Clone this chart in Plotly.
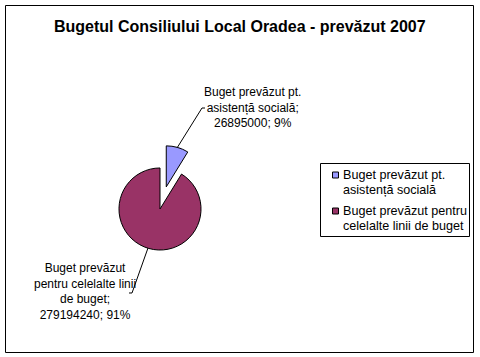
import plotly.graph_objects as go

categories = ["Buget prevăzut pt. asistență socială", "Buget prevăzut pentru celelalte linii de buget"]
legend_lines = [["Buget prevăzut pt.", "asistență socială"],
                ["Buget prevăzut pentru", "celelalte linii de buget"]]
values = [26895000, 279194240]
percents = ["9%", "91%"]
colors = ["#9999FF", "#993366"]

W, H = 480, 357

def px(x):
    return x / W

def py(y):
    return 1 - y / H

fig = go.Figure()
fig.add_trace(go.Pie(
    labels=categories,
    values=values,
    sort=False,
    direction="clockwise",
    rotation=0,
    pull=[0.56, 0],
    marker=dict(colors=colors, line=dict(color="black", width=1)),
    textinfo="none",
    hoverinfo="label+value+percent",
    showlegend=False,
    domain=dict(x=[px(160 - 64), px(160 + 64)], y=[py(209 + 64), py(209 - 64)]),
))

FAM = "Liberation Sans, Arial, sans-serif"
font = dict(family=FAM, size=12, color="black")

label1 = "Buget prevăzut pt.<br>asistență socială;<br>%d; %s" % (values[0], percents[0])
label2 = "Buget prevăzut<br>pentru celelalte linii<br>de buget;<br>%d; %s" % (values[1], percents[1])

annotations = [
    dict(text="<b>Bugetul Consiliului Local Oradea - prevăzut 2007</b>", x=px(240), y=py(27),
         xref="paper", yref="paper", showarrow=False, xanchor="center", yanchor="middle",
         font=dict(family=FAM, size=16, color="black")),
    dict(text=label1, x=px(252), y=py(107), xref="paper", yref="paper", showarrow=False,
         xanchor="center", yanchor="middle", align="center", font=font),
    dict(text=label2, x=px(85), y=py(291), xref="paper", yref="paper", showarrow=False,
         xanchor="center", yanchor="middle", align="center", font=font),
]

shapes = [
    dict(type="rect", xref="paper", yref="paper", x0=px(5.5), x1=px(473.5), y0=py(352.5), y1=py(5.5),
         line=dict(color="black", width=1)),
    dict(type="path", xref="paper", yref="paper",
         path="M %f,%f L %f,%f L %f,%f" % (px(177), py(148), px(202), py(108), px(205), py(108)),
         line=dict(color="black", width=1)),
    dict(type="path", xref="paper", yref="paper",
         path="M %f,%f L %f,%f L %f,%f" % (px(148), py(248), px(132), py(293), px(129), py(293)),
         line=dict(color="black", width=1)),
    # legend box
    dict(type="rect", xref="paper", yref="paper", x0=px(320.5), x1=px(469.5), y0=py(236.5), y1=py(163.5),
         line=dict(color="black", width=1), fillcolor="white"),
]

# manual legend entries
leg_top = [175, 211]
for i, c in enumerate(colors):
    yc = leg_top[i]
    shapes.append(dict(type="rect", xref="paper", yref="paper",
                       x0=px(332.5), x1=px(338.5), y0=py(yc + 3), y1=py(yc - 3),
                       line=dict(color="black", width=1), fillcolor=c))
    for j, line in enumerate(legend_lines[i]):
        annotations.append(dict(text=line, x=px(341), y=py(yc + 15 * j), xref="paper", yref="paper",
                                showarrow=False, xanchor="left", yanchor="middle",
                                font=dict(family=FAM, size=12.6, color="black")))

fig.update_layout(
    width=W, height=H,
    margin=dict(l=0, r=0, t=0, b=0),
    paper_bgcolor="white",
    plot_bgcolor="white",
    showlegend=False,
    annotations=annotations,
    shapes=shapes,
)

fig.write_html("out.html", config={"displayModeBar": False},
               post_script="document.body.style.margin='0';document.body.style.overflow='hidden';")
